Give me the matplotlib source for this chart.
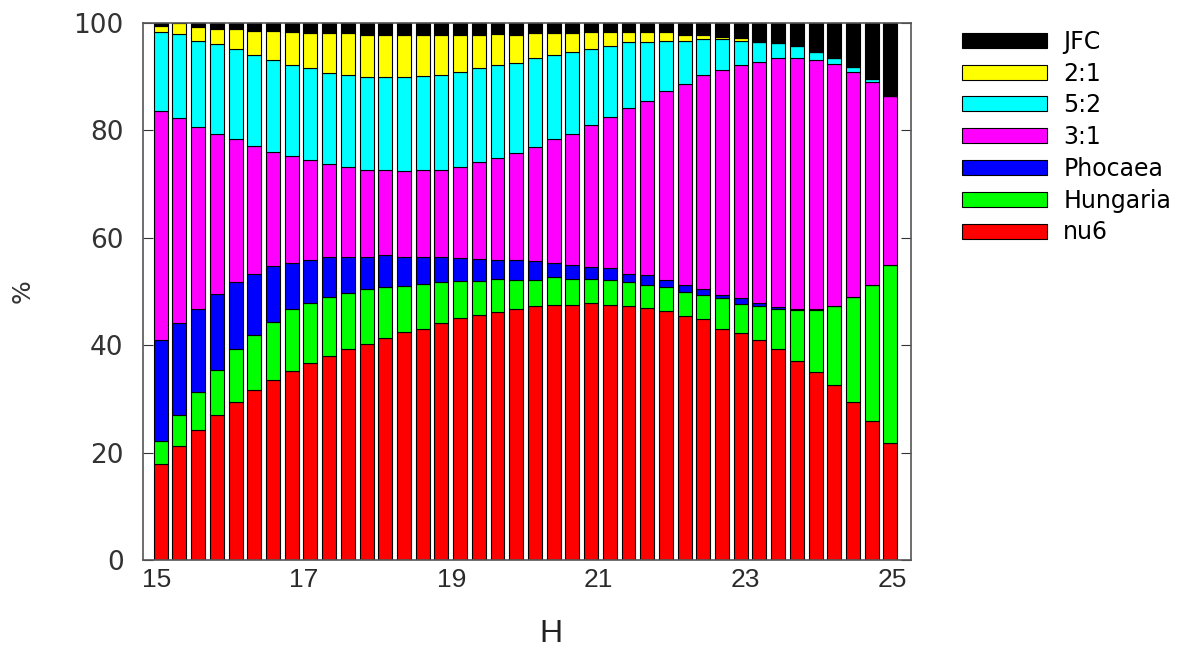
import numpy as np
import matplotlib
matplotlib.use('Agg')
import matplotlib.pyplot as plt

# bar positions (H magnitude bins)
H = np.linspace(15.05, 24.97, 40)

# percentages per source region (bottom -> top)
nu6 = [17.9, 21.3, 24.2, 27.0, 29.5, 31.6, 33.5, 35.2, 36.7, 38.0,
       39.2, 40.2, 41.3, 42.4, 43.1, 44.1, 45.0, 45.6, 46.2, 46.8,
       47.2, 47.5, 47.5, 47.8, 47.5, 47.3, 47.0, 46.4, 45.4, 44.8,
       43.1, 42.2, 41.0, 39.2, 37.1, 35.0, 32.6, 29.5, 25.9, 21.7]
hungaria = [4.3, 5.7, 7.1, 8.4, 9.7, 10.3, 10.9, 11.5, 11.2, 10.9,
            10.5, 10.2, 9.5, 8.6, 8.2, 7.6, 7.0, 6.4, 6.2, 5.4,
            5.0, 5.2, 4.8, 4.5, 4.6, 4.5, 4.2, 4.5, 4.5, 4.5,
            5.6, 5.4, 6.2, 7.6, 9.5, 11.6, 14.7, 19.4, 25.3, 33.2]
phocaea = [18.7, 17.2, 15.5, 14.1, 12.6, 11.3, 10.3, 8.6, 8.0, 7.5,
           6.7, 6.0, 6.0, 5.4, 5.1, 4.7, 4.3, 4.1, 3.5, 3.7,
           3.5, 2.6, 2.6, 2.3, 2.2, 1.5, 1.8, 1.2, 1.3, 1.2,
           0.6, 1.1, 0.6, 0.3, 0.1, 0.1, 0.0, 0.0, 0.0, 0.0]
r31 = [42.7, 38.1, 33.9, 29.8, 26.5, 23.9, 21.3, 19.9, 18.6, 17.4,
       16.8, 16.2, 15.8, 16.1, 16.2, 16.2, 16.9, 18.0, 18.9, 19.8,
       21.1, 23.0, 24.4, 26.4, 28.2, 30.8, 32.5, 35.3, 37.4, 39.8,
       41.9, 43.5, 45.0, 46.4, 46.7, 46.4, 45.0, 42.0, 37.8, 31.5]
r52 = [14.6, 15.6, 15.9, 16.7, 16.8, 16.9, 17.1, 17.0, 17.0, 16.9,
       17.1, 17.3, 17.3, 17.4, 17.5, 17.7, 17.7, 17.4, 17.4, 16.9,
       16.6, 15.7, 15.2, 14.1, 13.2, 12.3, 11.0, 9.3, 8.1, 6.6,
       5.7, 4.5, 3.7, 2.7, 2.2, 1.5, 1.1, 0.8, 0.5, 0.0]
r21 = [1.2, 2.0, 2.6, 2.8, 3.7, 4.4, 5.3, 6.0, 6.6, 7.4,
       7.8, 7.8, 7.8, 7.8, 7.6, 7.4, 6.8, 6.2, 5.7, 5.1,
       4.7, 4.1, 3.6, 3.1, 2.5, 1.8, 1.7, 1.5, 1.0, 0.8,
       0.5, 0.4, 0.0, 0.0, 0.0, 0.0, 0.0, 0.0, 0.0, 0.0]
jfc = [0.6, 0.1, 0.8, 1.2, 1.2, 1.6, 1.6, 1.8, 1.9, 1.9,
       1.9, 2.3, 2.3, 2.3, 2.3, 2.3, 2.3, 2.3, 2.1, 2.3,
       1.9, 1.9, 1.9, 1.8, 1.8, 1.8, 1.8, 1.8, 2.3, 2.3,
       2.6, 2.9, 3.5, 3.8, 4.4, 5.4, 6.6, 8.3, 10.5, 13.6]

series = [nu6, hungaria, phocaea, r31, r52, r21, jfc]
labels = ['nu6', 'Hungaria', 'Phocaea', '3:1', '5:2', '2:1', 'JFC']
colors = ['#ff0000', '#00ff00', '#0000ff', '#ff00ff', '#00ffff', '#ffff00', '#000000']

fig = plt.figure(figsize=(11.92, 6.52), dpi=100)
ax = fig.add_axes([0.120, 0.141, 0.644, 0.824])

bottom = np.zeros(len(H))
handles = []
for vals, lab, col in zip(series, labels, colors):
    b = ax.bar(H, vals, width=0.19, bottom=bottom, color=col,
               edgecolor='black', linewidth=0.8, label=lab)
    bottom += np.array(vals)
    handles.append(b)

ax.set_xlim(14.81, 25.245)
ax.set_ylim(0, 100)
ax.set_xticks([15, 17, 19, 21, 23, 25])
ax.set_yticks([0, 20, 40, 60, 80, 100])
ax.tick_params(axis='x', length=0, labelsize=19, colors='#2a2a2a', pad=6)
for t in ax.get_xticklabels():
    t.set_family('Liberation Sans')
ax.tick_params(axis='y', direction='in', length=7, labelsize=19,
               colors='#333333', right=True, pad=14)
for s in ax.spines.values():
    s.set_color('#555555')
    s.set_linewidth(1.2)

ax.set_xlabel('H', fontsize=23, color='#222222', family='Liberation Sans')
ax.xaxis.set_label_coords(0.531, -0.110)
ax.set_ylabel('%', fontsize=18, color='#333333')
ax.yaxis.set_label_coords(-0.141, 0.5)

leg = fig.legend(handles[::-1], labels[::-1], loc='upper left',
                 bbox_to_anchor=(0.789, 0.987), frameon=False,
                 fontsize=17, handlelength=3.6, handleheight=0.6,
                 labelspacing=0.33, handletextpad=0.7)

fig.savefig('out.png', dpi=100)
